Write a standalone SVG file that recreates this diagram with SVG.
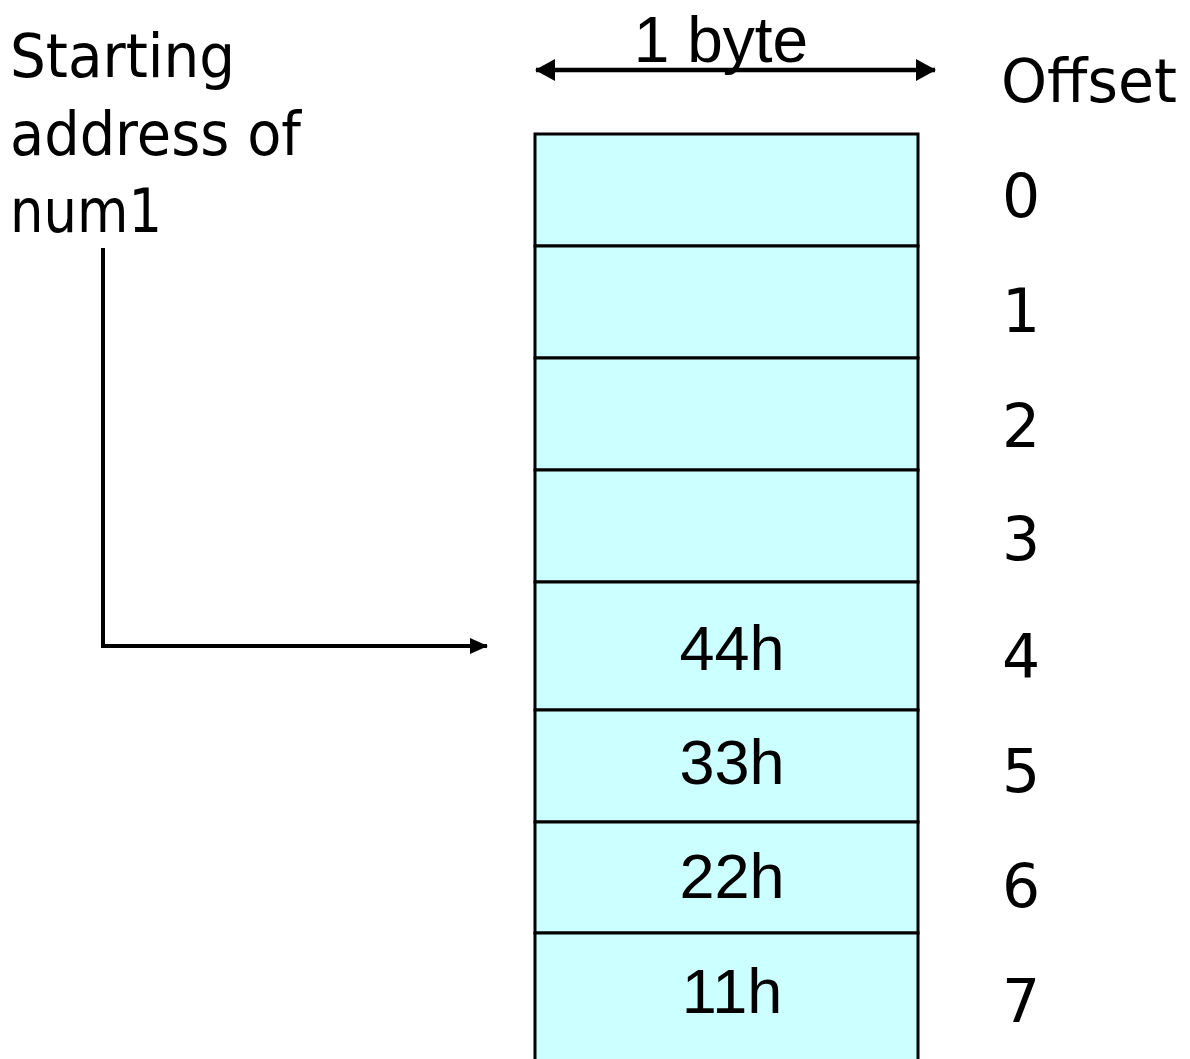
<svg xmlns="http://www.w3.org/2000/svg" width="1190" height="1059" viewBox="0 0 1190 1059">
<style>
.cell{fill:#CCFFFF;stroke:#000;stroke-width:3}
.lbl{font-family:"DejaVu Sans","Liberation Sans",sans-serif;font-size:60px;fill:#000}
.val{font-family:"Liberation Sans",Arial,sans-serif;font-size:63px;fill:#000;text-anchor:middle}
.conn{fill:none;stroke:#000}
</style>
<defs>
<marker id="ah" markerUnits="userSpaceOnUse" viewBox="0 0 20 22" refX="19" refY="11" markerWidth="20" markerHeight="22" orient="auto-start-reverse">
<path d="M0,0 L20,11 L0,22 Z" fill="#000"/>
</marker>
<marker id="ah2" markerUnits="userSpaceOnUse" viewBox="0 0 18 16" refX="17" refY="8" markerWidth="18" markerHeight="16" orient="auto">
<path d="M0,0 L18,8 L0,16 Z" fill="#000"/>
</marker>
</defs>
<rect width="1190" height="1059" fill="#fff"/>
<g id="label-start">
<text class="lbl" x="10" y="77" textLength="225" lengthAdjust="spacingAndGlyphs">Starting</text>
<text class="lbl" x="10" y="155" textLength="291" lengthAdjust="spacingAndGlyphs">address of</text>
<text class="lbl" x="10" y="232" textLength="152" lengthAdjust="spacingAndGlyphs">num1</text>
</g>
<g id="label-offset">
<text class="lbl" x="1001" y="102" textLength="176" lengthAdjust="spacingAndGlyphs">Offset</text>
</g>
<g id="label-byte">
<text x="721" y="62" font-family="Liberation Sans, Arial, sans-serif" font-size="64" text-anchor="middle">1 byte</text>
</g>
<g id="cell-0"><rect class="cell" x="535" y="134" width="383" height="112"/><text class="lbl" x="1002" y="217">0</text></g>
<g id="cell-1"><rect class="cell" x="535" y="246" width="383" height="112"/><text class="lbl" x="1002" y="332">1</text></g>
<g id="cell-2"><rect class="cell" x="535" y="358" width="383" height="112"/><text class="lbl" x="1002" y="447">2</text></g>
<g id="cell-3"><rect class="cell" x="535" y="470" width="383" height="112"/><text class="lbl" x="1002" y="560">3</text></g>
<g id="cell-4"><rect class="cell" x="535" y="582" width="383" height="128"/><text class="val" x="732" y="670">44h</text><text class="lbl" x="1002" y="677">4</text></g>
<g id="cell-5"><rect class="cell" x="535" y="710" width="383" height="112"/><text class="val" x="732" y="784">33h</text><text class="lbl" x="1002" y="792">5</text></g>
<g id="cell-6"><rect class="cell" x="535" y="822" width="383" height="111"/><text class="val" x="732" y="898">22h</text><text class="lbl" x="1002" y="907">6</text></g>
<g id="cell-7"><rect class="cell" x="535" y="933" width="383" height="140"/><text class="val" x="732" y="1013">11h</text><text class="lbl" x="1002" y="1022">7</text></g>
<g id="connectors">
<line class="conn" x1="536" y1="70" x2="935" y2="70" stroke-width="4.5" marker-start="url(#ah)" marker-end="url(#ah)"/>
<path class="conn" d="M103,248 V646 H487" stroke-width="4" marker-end="url(#ah2)"/>
</g>
</svg>
